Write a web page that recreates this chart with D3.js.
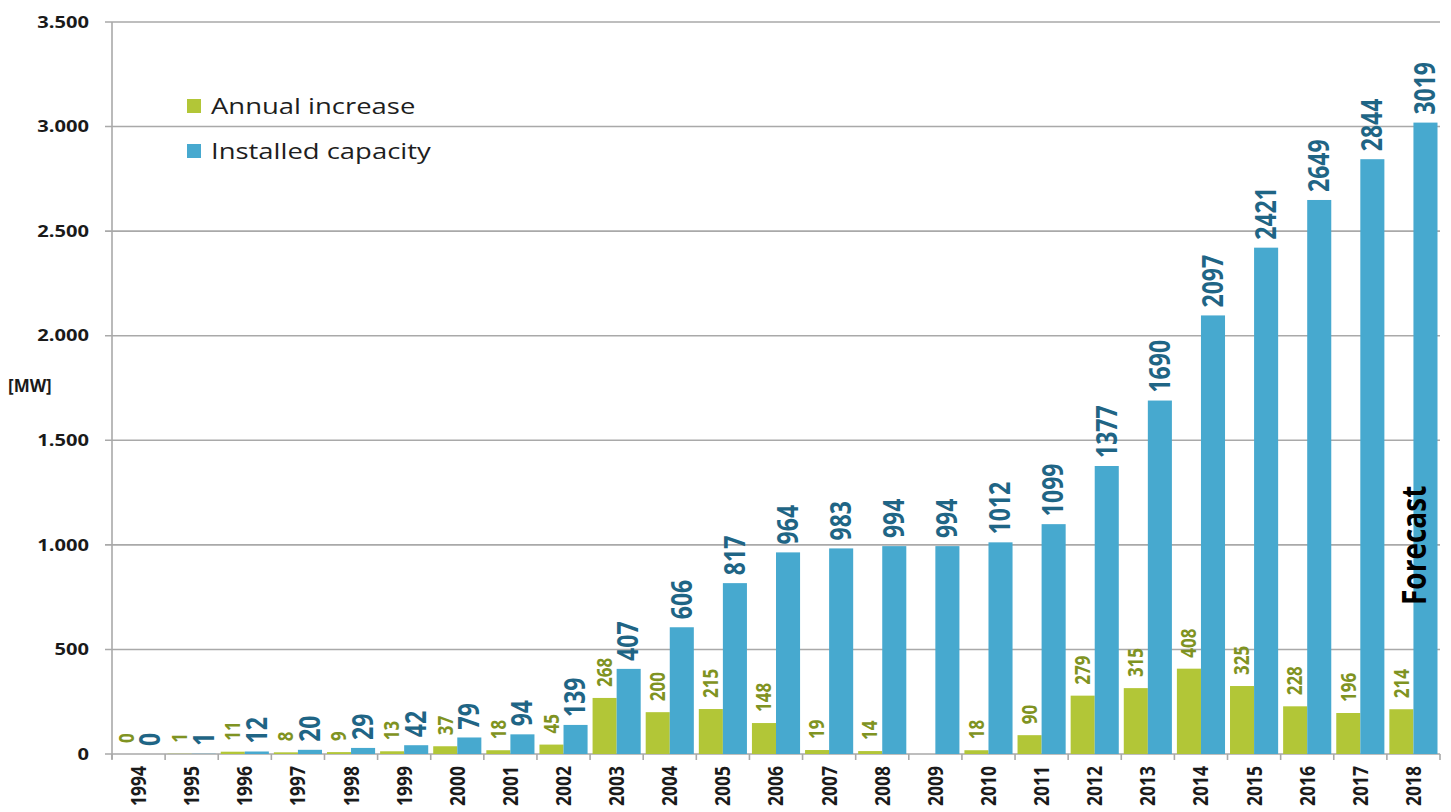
<!DOCTYPE html>
<html>
<head>
<meta charset="utf-8">
<script src="https://cdn.jsdelivr.net/npm/d3@7"></script>
<style>
  html, body { margin: 0; padding: 0; background: #ffffff; }
  svg { display: block; }
</style>
</head>
<body>
<svg id="chart" width="1451" height="812"></svg>
<script>
// ---------- DATA ----------
const years = ["1994","1995","1996","1997","1998","1999","2000","2001","2002","2003","2004","2005","2006",
               "2007","2008","2009","2010","2011","2012","2013","2014","2015","2016","2017","2018"];
const annualIncrease = [0,1,11,8,9,13,37,18,45,268,200,215,148,19,14,null,18,90,279,315,408,325,228,196,214];
const installedCapacity = [0,1,12,20,29,42,79,94,139,407,606,817,964,983,994,994,1012,1099,1377,1690,2097,2421,2649,2844,3019];
const yTicks = [0,500,1000,1500,2000,2500,3000,3500];
const yTickLabels = ["0","500","1.000","1.500","2.000","2.500","3.000","3.500"];
const seriesNames = ["Annual increase","Installed capacity"];
const yUnit = "[MW]";
const forecastLabel = "Forecast";

// ---------- STYLE ----------
const GREEN = "#b2c637", BLUE = "#47a9cf";
const GREEN_TXT = "#7f9322", BLUE_TXT = "#1f6585";
const GRID = "#a9a9a9";
const SX = 1.22; // horizontal stretch of the original text
const FONT = "'Open Sans', 'Noto Sans', sans-serif";

const svg = d3.select("#chart");
const pLeft = 112, pRight = 1440, pTop = 22, pBottom = 754;

const x0 = d3.scaleBand().domain(years).range([pLeft, pRight]).paddingInner(0.094).paddingOuter(0.047);
const x1 = d3.scaleBand().domain(["annual","installed"]).range([0, x0.bandwidth()]);
const y = d3.scaleLinear().domain([0, 3500]).range([pBottom, pTop]);

// gridlines
svg.append("g").selectAll("line").data(yTicks).join("line")
  .attr("x1", pLeft - 7).attr("x2", pRight)
  .attr("y1", d => y(d)).attr("y2", d => y(d))
  .attr("stroke", GRID).attr("stroke-width", 1.6);

// y axis line
svg.append("line").attr("x1", pLeft).attr("x2", pLeft).attr("y1", pTop).attr("y2", pBottom + 5)
  .attr("stroke", GRID).attr("stroke-width", 1.6);

// y tick labels
svg.append("g").selectAll("text").data(yTicks).join("text")
  .attr("transform", d => `translate(${pLeft - 23},${y(d)}) scale(${SX},1)`)
  .attr("text-anchor", "end").attr("dy", "0.35em")
  .attr("font-family", FONT).attr("font-weight", 700).attr("font-size", 16.5).attr("fill", "#1a1a1a")
  .text((d, i) => yTickLabels[i]);

// x ticks at band boundaries
const step = x0.step();
const boundaries = d3.range(years.length + 1).map(i => pLeft + i * step);
svg.append("g").selectAll("line").data(boundaries).join("line")
  .attr("x1", d => d).attr("x2", d => d).attr("y1", pBottom).attr("y2", pBottom + 6)
  .attr("stroke", GRID).attr("stroke-width", 1.6);

// x tick labels
svg.append("g").selectAll("text").data(years).join("text")
  .attr("transform", d => `translate(${x0(d) + x0.bandwidth() / 2},${pBottom + 12}) scale(${SX},1) rotate(-90)`)
  .attr("text-anchor", "end").attr("dy", "0.35em")
  .attr("font-family", FONT).attr("font-weight", 700).attr("font-size", 17.5).attr("fill", "#1a1a1a")
  .text(d => d);

// bars
const rows = years.map((yr, i) => ({ yr, annual: annualIncrease[i], installed: installedCapacity[i] }));

svg.append("g").selectAll("rect").data(rows.filter(d => d.annual !== null)).join("rect")
  .attr("x", d => x0(d.yr) + x1("annual")).attr("width", x1.bandwidth())
  .attr("y", d => y(d.annual)).attr("height", d => y(0) - y(d.annual))
  .attr("fill", GREEN);

svg.append("g").selectAll("rect").data(rows).join("rect")
  .attr("x", d => x0(d.yr) + x1("installed")).attr("width", x1.bandwidth())
  .attr("y", d => y(d.installed)).attr("height", d => y(0) - y(d.installed))
  .attr("fill", BLUE);

// value labels
svg.append("g").selectAll("text").data(rows.filter(d => d.annual !== null)).join("text")
  .attr("transform", d => `translate(${x0(d.yr) + x1("annual") + x1.bandwidth() / 2},${y(d.annual) - 11}) scale(${SX},1) rotate(-90)`)
  .attr("text-anchor", "start").attr("dy", "0.35em")
  .attr("font-family", FONT).attr("font-weight", 700).attr("font-size", 17).attr("fill", GREEN_TXT)
  .text(d => d.annual);

svg.append("g").selectAll("text").data(rows).join("text")
  .attr("transform", d => `translate(${x0(d.yr) + x1("installed") + x1.bandwidth() / 2},${y(d.installed) - 8}) scale(${SX},1) rotate(-90)`)
  .attr("text-anchor", "start").attr("dy", "0.35em")
  .attr("font-family", FONT).attr("font-weight", 700).attr("font-size", 23).attr("fill", BLUE_TXT)
  .text(d => d.installed);

// Forecast label
const lastYear = years[years.length - 1];
svg.append("text")
  .attr("transform", `translate(${x0(lastYear) + x1("installed") + 1},${605}) scale(${SX},1) rotate(-90)`)
  .attr("text-anchor", "start").attr("dy", "0.35em")
  .attr("font-family", FONT).attr("font-weight", 700).attr("font-size", 28).attr("fill", "#000")
  .text(forecastLabel);

// y unit
svg.append("text")
  .attr("transform", `translate(8,${386})`)
  .attr("dy", "0.35em")
  .attr("font-family", FONT).attr("font-weight", 700).attr("font-size", 17).attr("fill", "#1a1a1a")
  .text(yUnit);

// legend
const legend = svg.append("g");
const legendColors = [GREEN, BLUE];
const legendY = [106, 151];
legend.selectAll("rect").data(seriesNames).join("rect")
  .attr("x", 187).attr("y", (d, i) => legendY[i] - 7).attr("width", 14).attr("height", 14)
  .attr("fill", (d, i) => legendColors[i]);
legend.selectAll("text").data(seriesNames).join("text")
  .attr("transform", (d, i) => `translate(211,${legendY[i]}) scale(${SX},1)`)
  .attr("dy", "0.35em")
  .attr("font-family", FONT).attr("font-size", 22.5).attr("fill", "#1e1e1e")
  .text(d => d);
</script>
</body>
</html>
